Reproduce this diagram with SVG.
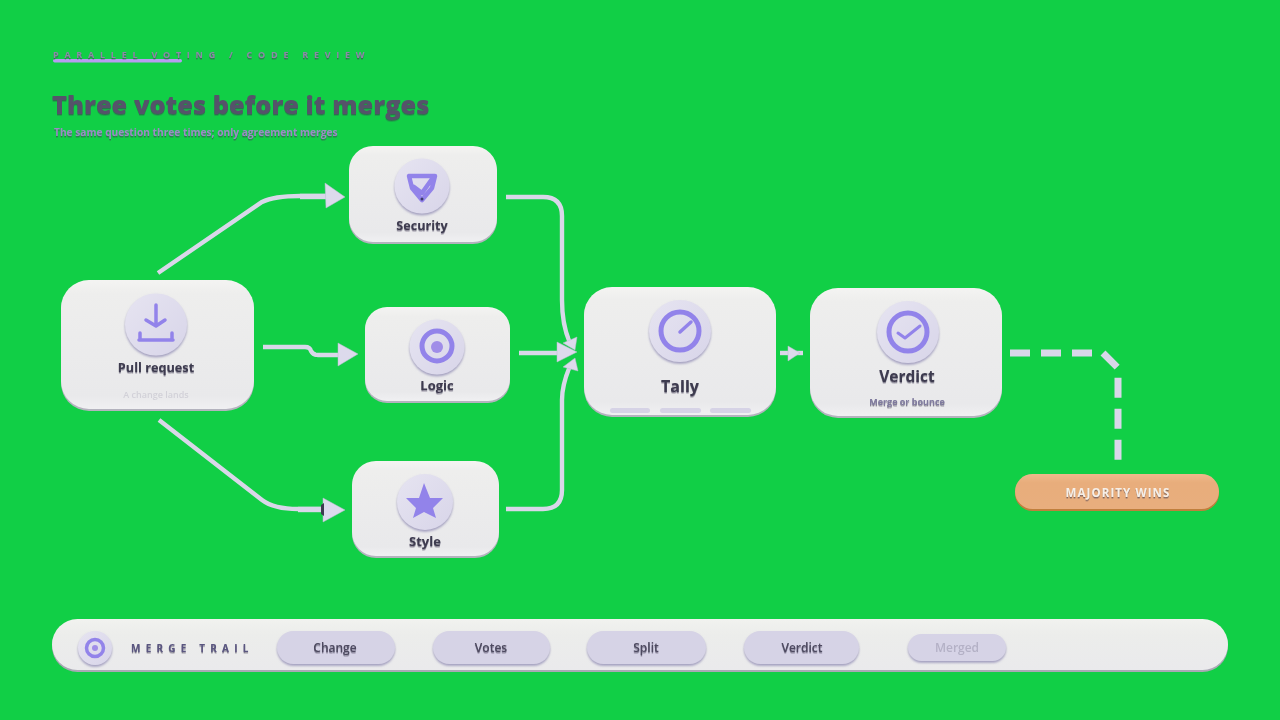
<svg xmlns="http://www.w3.org/2000/svg" width="1280" height="720" viewBox="0 0 1280 720">
<defs>
<linearGradient id="card" x1="0" y1="0" x2="0" y2="1"><stop offset="0" stop-color="#f4f4f2"/><stop offset="0.1" stop-color="#eeeeed"/><stop offset="0.9" stop-color="#e9e9eb"/><stop offset="1" stop-color="#f0f0f2"/></linearGradient>
<linearGradient id="disc" x1="0" y1="0" x2="1" y2="1"><stop offset="0" stop-color="#e6e4f1"/><stop offset="1" stop-color="#d8d5e9"/></linearGradient>
<linearGradient id="bar" x1="0" y1="0" x2="0" y2="1"><stop offset="0" stop-color="#f1f2ef"/><stop offset="0.3" stop-color="#ecedeb"/><stop offset="1" stop-color="#eaeaec"/></linearGradient>
<linearGradient id="pill" x1="0" y1="0" x2="0" y2="1"><stop offset="0" stop-color="#eeb98c"/><stop offset="0.25" stop-color="#e8ad7b"/><stop offset="1" stop-color="#e8ae7e"/></linearGradient>
<filter id="all" filterUnits="userSpaceOnUse" x="0" y="0" width="1280" height="720"><feGaussianBlur stdDeviation="0.45"/></filter>
<filter id="ts" x="-10%" y="-30%" width="120%" height="170%"><feDropShadow dx="0" dy="1.4" stdDeviation="0.7" flood-color="#3c3950" flood-opacity="0.6"/></filter>
<filter id="ds" x="-20%" y="-20%" width="140%" height="140%"><feDropShadow dx="0" dy="1.8" stdDeviation="1" flood-color="#908bb4" flood-opacity="0.8"/></filter>
</defs>
<style>
text{font-family:"Open Sans","Liberation Sans",sans-serif;text-anchor:middle}
.base{fill:#b4b3be}
.top{fill:url(#card)}
.disc{fill:url(#disc);filter:url(#ds)}
.ic{fill:none;stroke:#9283ea;stroke-linecap:round;stroke-linejoin:round}
.icf{fill:#9283ea}
.t{font-weight:700;fill:#3e3b4f;filter:url(#ts)}
.line{fill:none;stroke:#d9d7e9;stroke-width:4.4;stroke-linecap:butt}
.stub{fill:none;stroke:#d9d7e9;stroke-width:5.4}
.head{fill:#dcdaec;stroke:#bcb9d4;stroke-width:0.5}
.chip{fill:#d6d3e6;filter:url(#ds)}
.chipt{font-size:12px;font-weight:600;fill:#4d4a60;filter:url(#ts)}
</style>
<rect width="1280" height="720" fill="#11cf46"/>
<g filter="url(#all)">
<g id="header">
<rect x="53" y="59" width="129" height="3.5" rx="1.7" fill="#b79cf2"/>
<text x="53" y="58" style="text-anchor:start;font-size:9px;font-weight:700;letter-spacing:5.75px;fill:#8d88a8" filter="url(#ts)">PARALLEL VOTING / CODE REVIEW</text>
<text x="52" y="114" style="text-anchor:start;font-size:25.4px;font-weight:800;fill:#55526a" filter="url(#ts)">Three votes before it merges</text>
<text x="54" y="136" style="text-anchor:start;font-size:10.2px;font-weight:700;fill:#9a8cc4" filter="url(#ts)">The same question three times; only agreement merges</text>
</g>
<g id="connectors">
<path class="line" d="M158 273 L262 202 Q274 196 300 196 H326"/><path class="stub" d="M300 196.5 H326"/><polygon class="head" points="325,183 345,197 326,208"/>
<path class="line" d="M263 347 H305 Q310 347 311 351 Q313 355 318 355 H340"/><polygon class="head" points="338,343 358,354 338,366"/>
<path class="line" d="M159 420 L262 500 Q274 509 298 509 H325"/><path class="stub" d="M298 509.5 H325"/><polygon class="head" points="323,498 345,510 323,522"/><polygon fill="#3e3b4f" points="321,505 324,503 324,516 321,514"/>
<path class="line" d="M506 197 H543 Q562 197 562 216 V300 Q562 325 570 343"/><polygon class="head" points="563,343 577,337 575,350"/>
<path class="line" d="M519 353 H560"/><polygon class="head" points="557,342 577,352 557,362"/>
<path class="line" d="M506 509 H543 Q562 509 562 490 V400 Q562 385 570 366"/><polygon class="head" points="563,367 578,371 575,358"/>
<path class="line" d="M780 353 H803"/><polygon class="head" points="788,346 800,353 788,361"/>
<path fill="none" stroke="#d9d7e9" stroke-width="7" stroke-dasharray="20 11" d="M1010 353 H1103 L1118 368 V461"/>
</g>
<g id="node-pull">
<rect class="base" x="61" y="282" width="193" height="129" rx="28"/><rect class="top" x="61" y="280" width="193" height="129" rx="28"/>
<circle class="disc" cx="156" cy="324.5" r="31"/>
<path class="ic" stroke-width="3.5" d="M156 305 V326 M146 320 L156 326 L165 320 M139 340 H173 M140 333 V340 M172 333 V340"/>
<text class="t" x="156" y="372" font-size="12.7">Pull request</text>
<text x="156" y="398" font-size="9" font-weight="600" fill="#d2d1d8">A change lands</text>
</g>
<g id="node-security">
<rect class="base" x="349" y="148" width="148" height="96" rx="24"/><rect class="top" x="349" y="146" width="148" height="96" rx="24"/>
<circle class="disc" cx="422" cy="186" r="27.5"/>
<path class="ic" stroke-width="4.5" d="M409 176 H435 L432 188 L422 200 L412 188 Z M414 187 L422 193 L432 179"/>
<circle cx="422" cy="199" r="1.5" fill="#3e3b6a"/>
<text class="t" x="422" y="230" font-size="12.6">Security</text>
</g>
<g id="node-logic">
<rect class="base" x="365" y="309" width="145" height="94" rx="22"/><rect class="top" x="365" y="307" width="145" height="94" rx="22"/>
<circle class="disc" cx="437" cy="347" r="27.5"/>
<circle class="ic" cx="437" cy="346" r="15" stroke-width="5"/><circle cx="437" cy="347" r="6" fill="#a08de8"/>
<text class="t" x="437" y="390" font-size="13">Logic</text>
</g>
<g id="node-style">
<rect class="base" x="352" y="463" width="147" height="95" rx="24"/><rect class="top" x="352" y="461" width="147" height="95" rx="24"/>
<circle class="disc" cx="425" cy="502" r="28"/>
<polygon class="icf" points="424,483 430,498 443,498 433,508 436,518 424,512 413,518 416,508 406,498 419,498"/>
<text class="t" x="425" y="546" font-size="13">Style</text>
</g>
<g id="node-tally">
<rect class="base" x="584" y="289" width="192" height="128" rx="28"/><rect class="top" x="584" y="287" width="192" height="128" rx="28"/>
<circle class="disc" cx="680" cy="331" r="31"/>
<circle class="ic" cx="680" cy="331" r="19" fill="#e2dff0" stroke-width="5"/><path class="ic" stroke-width="3.5" d="M680 332 L691 322"/>
<text class="t" x="680" y="392" font-size="16">Tally</text>
<rect x="610" y="408" width="40" height="5" rx="2.5" fill="#d6d3e6"/><rect x="660" y="408" width="41" height="5" rx="2.5" fill="#d6d3e6"/><rect x="710" y="408" width="41" height="5" rx="2.5" fill="#d6d3e6"/>
</g>
<g id="node-verdict">
<rect class="base" x="810" y="290" width="192" height="128" rx="28"/><rect class="top" x="810" y="288" width="192" height="128" rx="28"/>
<circle class="disc" cx="908" cy="332" r="31"/>
<circle class="ic" cx="908" cy="332" r="19" fill="#e2dff0" stroke-width="5"/><path class="ic" stroke-width="3" d="M898 333 L905 338 L920 326"/>
<text class="t" x="907" y="382" font-size="15.5">Verdict</text>
<text x="907" y="405" font-size="9" font-weight="700" fill="#7f7a9e" filter="url(#ts)">Merge or bounce</text>
</g>
<g id="node-majority">
<rect x="1015" y="476" width="204" height="35" rx="17.5" fill="#c07f3c"/><rect x="1015" y="474" width="204" height="35" rx="17.5" fill="url(#pill)"/>
<text x="1118" y="497" font-size="11.5" font-weight="700" letter-spacing="1.1" fill="#f6efe8" filter="url(#ts)">MAJORITY WINS</text>
</g>
<g id="trail">
<rect x="52" y="621" width="1176" height="51" rx="25.5" fill="#a9a8b4"/><rect x="52" y="619" width="1176" height="51" rx="25.5" fill="url(#bar)"/>
<circle class="disc" cx="95" cy="648" r="17"/><circle class="ic" cx="95" cy="648" r="8.5" stroke-width="3.5"/><circle cx="95" cy="648" r="3" fill="#a08de8"/>
<text x="131" y="652" style="text-anchor:start;font-size:10px;font-weight:700;letter-spacing:5.2px;fill:#5a5680" filter="url(#ts)">MERGE TRAIL</text>
<rect class="chip" x="277" y="631" width="118" height="33" rx="16.5"/><text class="chipt" x="335" y="652">Change</text>
<rect class="chip" x="433" y="631" width="117" height="33" rx="16.5"/><text class="chipt" x="491" y="652">Votes</text>
<rect class="chip" x="587" y="631" width="119" height="33" rx="16.5"/><text class="chipt" x="646" y="652">Split</text>
<rect class="chip" x="744" y="631" width="115" height="33" rx="16.5"/><text class="chipt" x="802" y="652">Verdict</text>
<rect class="chip" x="908" y="634" width="98" height="27" rx="13.5"/><text x="957" y="652" font-size="12" font-weight="600" fill="#b4b1c6">Merged</text>
</g>
</g>
</svg>
